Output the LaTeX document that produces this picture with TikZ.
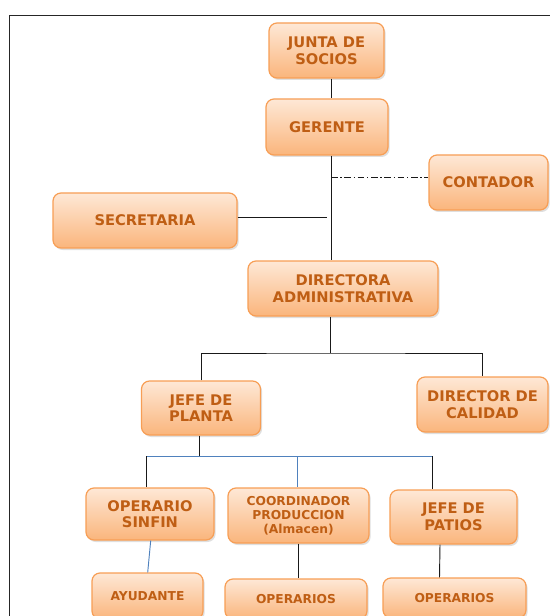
\documentclass[tikz,border=0pt]{standalone}
\usepackage{fontspec}
\setmainfont{DejaVu Sans}
\usetikzlibrary{shadows,calc}
\definecolor{boxtop}{HTML}{FEE8D6}
\definecolor{boxbot}{HTML}{FAB57C}
\definecolor{boxline}{HTML}{F79E55}
\definecolor{txt}{HTML}{BF5E14}
\definecolor{blueline}{HTML}{4F81BD}
\tikzset{
  box/.style 2 args={draw=boxline, line width=0.9pt, rounded corners=6pt,
    top color=boxtop, bottom color=boxbot,
    drop shadow={opacity=0.25, shadow xshift=1.2pt, shadow yshift=-1.5pt},
    minimum width=#1*0.75pt, minimum height=#2*0.75pt, inner sep=0pt,
    align=center, text=txt, font=\bfseries\fontsize{11}{12.5}\selectfont},
  small/.style={font=\bfseries\fontsize{9.2}{10.5}\selectfont},
  conn/.style={draw=black!90, line width=0.7pt},
  bconn/.style={draw=blueline, line width=0.7pt}
}
\begin{document}
\begin{tikzpicture}[x=0.75pt,y=-0.75pt]
\useasboundingbox (0,0) rectangle (549,616);
\draw[black!85, line width=0.7pt] (9,15) rectangle (570,640);
% nodes
\node[box={115}{55}] (junta) at (326.5,50.5) {JUNTA DE\\SOCIOS};
\node[box={122}{56}] (gerente) at (327,127) {GERENTE};
\node[box={119}{55}] (contador) at (488.5,182.5) {CONTADOR};
\node[box={184}{55}] (secretaria) at (145,220.5) {SECRETARIA};
\node[box={190}{55}] (directora) at (343,288.5) {DIRECTORA\\ADMINISTRATIVA};
\node[box={119}{54}] (jplanta) at (201,408) {JEFE DE\\PLANTA};
\node[box={131}{55}] (dcalidad) at (482.5,404.5) {DIRECTOR DE\\CALIDAD};
\node[box={128}{52}] (sinfin) at (150,514) {OPERARIO\\SINFIN};
\node[box={141}{55},small] (coord) at (298.5,515.5) {COORDINADOR\\PRODUCCION\\(Almacen)};
\node[box={127}{54}] (patios) at (453.5,517) {JEFE DE\\PATIOS};
\node[box={111}{46},small] (ayudante) at (147.5,596) {AYUDANTE};
\node[box={142}{40},small] (oper1) at (296,599) {OPERARIOS};
\node[box={143}{40},small] (oper2) at (454.5,598) {OPERARIOS};
% connectors top
\coordinate (sp) at (331,0);
\coordinate (cj) at (331,177);
\coordinate (sj) at (327,217.5);
\coordinate (hz) at (330,353);
\draw[conn] (junta.south -| sp) -- (gerente.north -| sp);
\draw[conn] (gerente.south -| sp) -- (directora.north -| sp);
\draw[conn, dash pattern=on 5pt off 2pt on 1pt off 2pt] (cj) -- (cj -| contador.west);
\draw[conn] (sj -| secretaria.east) -- (sj);
\draw[conn] (directora.south -| hz) -- (hz);
\draw[conn] (jplanta.north) |- (hz) -| (dcalidad.north);
% connectors bottom
\coordinate (bz) at (199,456);
\draw[conn] (jplanta.south -| bz) -- (bz);
\draw[bconn] (146,456) -- (432.5,456);
\draw[conn] (146,456) -- (sinfin.north -| 146,0);
\draw[bconn] (297,456) -- (coord.north -| 297,0);
\draw[conn] (432.5,456) -- (patios.north -| 432.5,0);
\draw[bconn] (sinfin.south -| 150.7,0) -- (ayudante.north -| 147.7,0);
\draw[conn] (coord.south -| 298,0) -- (oper1.north -| 298,0);
\draw[conn] (patios.south -| 440,0) -- (oper2.north -| 439.5,0);
\end{tikzpicture}
\end{document}
